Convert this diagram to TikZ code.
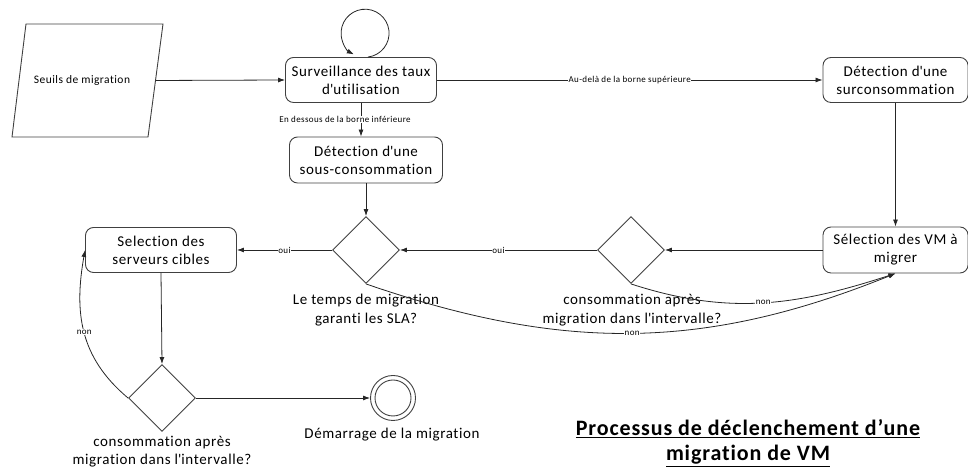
\documentclass[tikz,border=0pt]{standalone}
\usepackage{fontspec}
\setmainfont{Carlito}[LetterSpace=4, Ligatures={NoCommon}]
\usetikzlibrary{shapes.geometric,arrows.meta,calc}
\newcommand\ap{\textquotesingle}
\begin{document}
\begin{tikzpicture}[x=1pt,y=1pt,
 box/.style={draw=black!75, line width=0.9pt, rounded corners=8pt, minimum width=151pt, minimum height=45pt, align=center, font=\fontsize{15}{18}\selectfont, inner sep=2pt},
 dec/.style={diamond, draw=black!75, line width=0.9pt, minimum width=67pt, minimum height=67pt, inner sep=0pt},
 arr/.style={draw=black!85, line width=0.8pt, -{Latex[length=7pt,width=5pt]}},
 lab/.style={font=\fontsize{15}{19}\selectfont, align=center},
 small/.style={font=\fontsize{9}{10}\selectfont, fill=white, inner sep=0.6pt},
 outline/.style={draw=black!75, line width=0.9pt},
]
\useasboundingbox (0,0) rectangle (968,470);

% parallelogram (data input)
\coordinate (p1) at (26,446);
\coordinate (p2) at (163,446);
\coordinate (p3) at (148,333);
\coordinate (p4) at (12,333);
\draw[outline] (p1) -- (p2) -- (p3) -- (p4) -- cycle;
\node[font=\fontsize{11.5}{13}\selectfont] (para) at (82,389.5) {Seuils de migration};
\coordinate (paraE) at ($(p2)!0.5!(p3)$);

\node[box] (surv) at (361,390) {Surveillance des taux\\d\ap utilisation};
\node[box, minimum width=145pt] (surc) at (895.5,390) {Détection d\ap une\\surconsommation};
\node[box, minimum width=153pt, minimum height=46pt] (sousc) at (366,310) {Détection d\ap une\\sous-consommation};
\node[box] (selsrv) at (161,220) {Selection des\\serveurs cibles};
\node[box, minimum width=145pt, minimum height=46pt] (vm) at (895.5,220) {Sélection des VM à\\migrer};

\node[dec] (d1) at (366,220) {};
\node[dec] (d2) at (631,220) {};
\node[dec] (d3) at (162,72) {};

\node[circle, draw=black!75, line width=0.9pt, minimum size=45pt, inner sep=0pt] (end) at (393,72) {};
\draw[outline] (end.center) circle[radius=18];

\node[lab] (l1) at (366,160) {Le temps de migration\\garanti les SLA?};
\node[lab] (l2) at (632,160) {consommation après\\migration dans l\ap intervalle?};
\node[lab, font=\fontsize{15}{18}\selectfont] (l3) at (162,18.5) {consommation après\\migration dans l\ap intervalle?};
\node[lab] (l4) at (392,35) {Démarrage de la migration};
\node[font=\fontsize{22}{25}\selectfont\bfseries, align=center] (title) at (748,27) {\underline{Processus de déclenchement d’une}\\\underline{migration de VM}};

% connectors
\draw[arr] ($(surv.north)+(7,0)$) arc[start angle=-83, end angle=242, radius=24];
\draw[arr] (paraE) -- (surv.west);
\draw[arr] (surv.east) -- node[small] {Au-delà de la borne supérieure} (surc.west);
\draw[arr] (surv.south) -- node[small, pos=0.5, xshift=-16pt] {En dessous de la borne inférieure} (surv.south |- sousc.north);
\draw[arr] (sousc.south) -- (d1.north);
\draw[arr] (surc.south) -- (vm.north);
\draw[arr] (vm.west) -- (d2.east);
\draw[arr] (d2.west) -- node[small] {oui} (d1.east);
\draw[arr] (d1.west) -- node[small] {oui} (selsrv.east);
\draw[arr] (selsrv.south) -- (d3.north);
\draw[arr] (d3.east) -- (end.west);
\draw[arr] (d3.west) to[out=140, in=-100, looseness=1.05] node[small, pos=0.5] {non} (selsrv.west);
\draw[arr] (d2.south) to[out=-18, in=198] node[small] {non} (vm.south);
\draw[arr] (d1.south) to[out=-19, in=202] node[small] {non} (vm.south);
\end{tikzpicture}
\end{document}
